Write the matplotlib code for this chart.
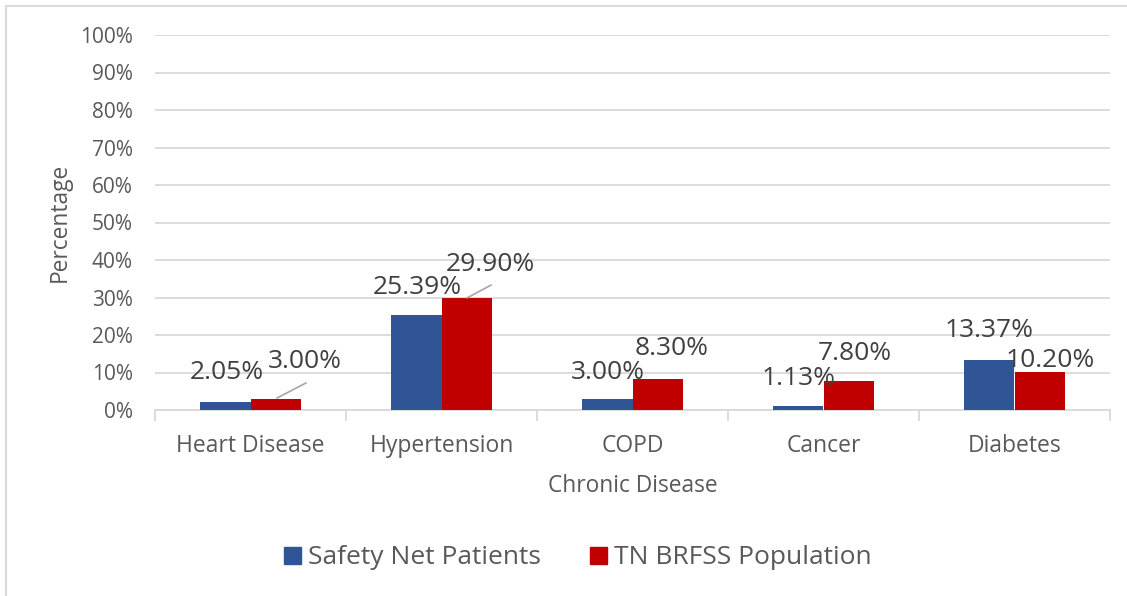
import numpy as np
import matplotlib
matplotlib.use('Agg')
import matplotlib.pyplot as plt
from matplotlib.patches import Patch
from matplotlib.lines import Line2D

# ─── Дані ─────────────────────────────────────────────────────────────────────

categories = ["Heart Disease", "Hypertension", "COPD", "Cancer", "Diabetes"]
safety_net = [2.05, 25.39, 3.00, 1.13, 13.37]
tn_brfss = [3.00, 29.90, 8.30, 7.80, 10.20]
series_names = ["Safety Net Patients", "TN BRFSS Population"]
y_ticks = [0, 10, 20, 30, 40, 50, 60, 70, 80, 90, 100]

# позиції підписів (як у Excel, вручну зсунуті)
LABEL_POS_SN = [(-0.123, 10.1), (0.872, 32.8), (1.871, 10.1), (2.87, 8.3), (3.866, 21.3)]
LABEL_POS_TN = [(0.285, 12.8), (1.254, 38.7), (2.206, 16.3), (3.165, 15.2), (4.186, 13.3)]
LEADERS = [((0.139, 3.2), (0.29, 7.2)), ((1.134, 29.9), (1.259, 33.3))]

BLUE = "#2F5597"
RED = "#C00000"
GRID = "#D9D9D9"
TXT = "#595959"
LBL = "#404040"

plt.rcParams['font.family'] = ['Open Sans', 'DejaVu Sans']

fig = plt.figure(figsize=(11.27, 5.96), dpi=100)
ax = fig.add_axes([155 / 1127, 1 - 410 / 596, (1110 - 155) / 1127, (410 - 35) / 596])

x = np.arange(len(categories))
w = 0.262
ax.bar(x - w / 2, safety_net, w, color=BLUE, zorder=3)
ax.bar(x + w / 2, tn_brfss, w, color=RED, zorder=3)

for v, (px, py) in zip(safety_net, LABEL_POS_SN):
    ax.text(px, py, f"{v:.2f}%", ha='center', va='center', fontsize=19, color=LBL, zorder=5)
for v, (px, py) in zip(tn_brfss, LABEL_POS_TN):
    ax.text(px, py, f"{v:.2f}%", ha='center', va='center', fontsize=19, color=LBL, zorder=5)
for (a, b) in LEADERS:
    ax.plot([a[0], b[0]], [a[1], b[1]], color="#A6A6A6", lw=1.2, zorder=4)

ax.set_xlim(-0.5, len(categories) - 0.5)
ax.set_ylim(0, 100)
ax.set_yticks(y_ticks)
ax.set_yticklabels([f"{t}%" for t in y_ticks])
ax.yaxis.grid(True, color=GRID, lw=1.3, zorder=0)
ax.tick_params(axis='y', length=0, pad=16, labelsize=15, labelcolor=TXT)

ax.set_xticks(x)
ax.set_xticklabels(categories)
ax.tick_params(axis='x', length=0, pad=17, labelsize=16.5, labelcolor=TXT)
ax.set_xticks(np.arange(-0.5, len(categories)), minor=True)
ax.tick_params(axis='x', which='minor', length=8, width=1.3, color=GRID)

for s in ["top", "right", "left"]:
    ax.spines[s].set_visible(False)
ax.spines["bottom"].set_color(GRID)
ax.spines["bottom"].set_linewidth(1.3)

ax.set_ylabel("Percentage", fontsize=16.4, color=TXT, labelpad=6)
ax.set_xlabel("Chronic Disease", fontsize=16.4, color=TXT, labelpad=12)

handles = [Patch(color=BLUE), Patch(color=RED)]
fig.legend(handles, series_names, loc='center', bbox_to_anchor=(578 / 1127, 1 - 558 / 596),
           ncol=2, frameon=False, fontsize=19, labelcolor=TXT,
           handlelength=0.64, handleheight=0.64, handletextpad=0.27, columnspacing=1.85)

# рамка діаграми
fig.add_artist(Line2D([6 / 1127, 6 / 1127], [0, 1 - 6 / 596], color=GRID, lw=1.5))
fig.add_artist(Line2D([6 / 1127, 1], [1 - 6 / 596, 1 - 6 / 596], color=GRID, lw=1.5))

plt.savefig("out.png", dpi=100)
